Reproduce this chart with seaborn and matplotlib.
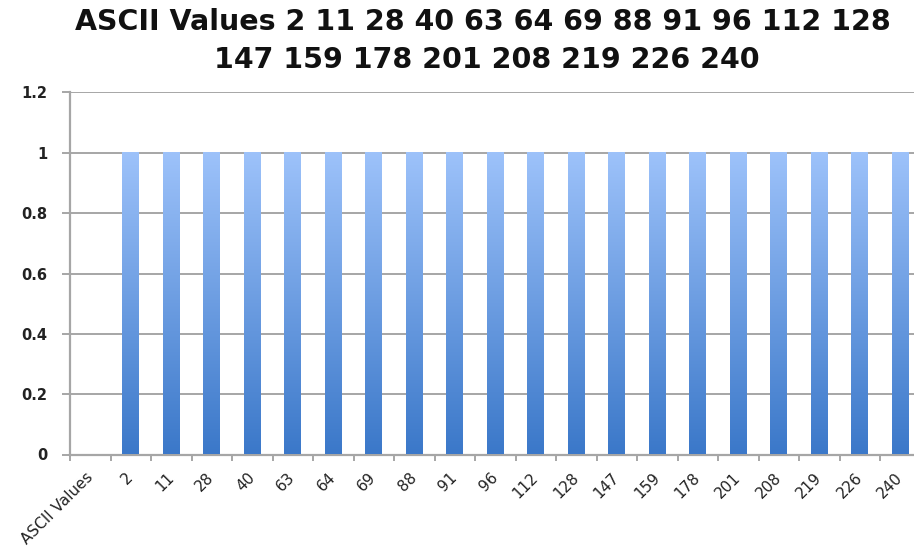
import numpy as np
import pandas as pd
import seaborn as sns
import matplotlib.pyplot as plt
from matplotlib.colors import LinearSegmentedColormap

sns.set_theme(style="white")
plt.rcParams['font.family'] = ['DejaVu Sans']

categories = ["ASCII Values", "2", "11", "28", "40", "63", "64", "69", "88", "91",
              "96", "112", "128", "147", "159", "178", "201", "208", "219", "226", "240"]
values = [0, 1, 1, 1, 1, 1, 1, 1, 1, 1, 1, 1, 1, 1, 1, 1, 1, 1, 1, 1, 1]
yticks = [0, 0.2, 0.4, 0.6, 0.8, 1, 1.2]
ytick_labels = ["0", "0.2", "0.4", "0.6", "0.8", "1", "1.2"]
title_line1 = "ASCII Values 2 11 28 40 63 64 69 88 91 96 112 128"
title_line2 = "147 159 178 201 208 219 226 240"

fig = plt.figure(figsize=(9.14, 5.47), dpi=100)
ax = fig.add_axes([70 / 914, 92.5 / 547, 850.5 / 914, 362 / 547])

df = pd.DataFrame({"cat": categories, "val": values})
sns.barplot(data=df, x="cat", y="val", ax=ax, width=0.41, color="#6A9BE0",
            order=categories, zorder=3)

# gradient fill for bars
cmap = LinearSegmentedColormap.from_list("grad", ["#3B78C9", "#9DC2FA"])
grad = np.linspace(0, 1, 256).reshape(-1, 1)
for p in list(ax.patches):
    h = p.get_height()
    if h <= 0:
        p.set_visible(False)
        continue
    x0 = p.get_x()
    w = p.get_width()
    ax.imshow(grad, cmap=cmap, origin="lower", aspect="auto",
              extent=[x0, x0 + w, 0, h], zorder=3, interpolation="bilinear")
    p.set_visible(False)
ax.set_xlim(-0.5, len(categories) - 0.5)
ax.set_ylim(0, 1.2)

# grid
ax.set_yticks(yticks)
ax.set_yticklabels(ytick_labels, fontsize=10.5, fontweight="bold", color="#222222")
ax.yaxis.grid(True, color="#A6A6A6", linewidth=1.4, zorder=0)
ax.set_axisbelow(True)

# x ticks
ax.set_xticks(range(len(categories)))
ax.set_xticklabels(categories, rotation=45, ha="right", va="center",
                   rotation_mode="anchor", fontsize=11, color="#222222")
ax.set_xticks(np.arange(-0.5, len(categories)), minor=True)
ax.tick_params(axis="x", which="major", length=0, pad=15)
ax.tick_params(axis="x", which="minor", length=4, width=1.4, color="#A6A6A6",
               direction="out", bottom=True)
ax.tick_params(axis="y", which="major", length=6, width=1.4, color="#A6A6A6",
               direction="out", left=True, pad=10.5)

for s in ["top", "right"]:
    ax.spines[s].set_visible(False)
for s in ["left", "bottom"]:
    ax.spines[s].set_color("#A6A6A6")
    ax.spines[s].set_linewidth(1.6)

ax.set_xlabel("")
ax.set_ylabel("")

fig.text(483 / 914, 1 - 22 / 547, title_line1, ha="center", va="center",
         fontsize=20.5, fontweight="bold", color="#111111")
fig.text(487 / 914, 1 - 60 / 547, title_line2, ha="center", va="center",
         fontsize=20.5, fontweight="bold", color="#111111")

fig.savefig("out.png", dpi=100)
